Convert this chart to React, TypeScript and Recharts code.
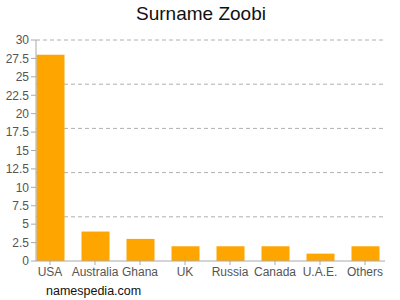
import React from "react";
import { BarChart, Bar, XAxis, YAxis, CartesianGrid } from "recharts";

const countries = ["USA", "Australia", "Ghana", "UK", "Russia", "Canada", "U.A.E.", "Others"];
const counts = [28, 4, 3, 2, 2, 2, 1, 2];
const yTicks = [0, 2.5, 5, 7.5, 10, 12.5, 15, 17.5, 20, 22.5, 25, 27.5, 30];
const gridValues = [6, 12, 18, 24, 30];

const data = countries.map((name, i) => ({ name, value: counts[i] }));

const font = "'Liberation Sans', Arial, Helvetica, sans-serif";

export default function App() {
  return (
    <div style={{ position: "absolute", left: 0, top: 0, width: 400, height: 300, background: "#fff", fontFamily: font }}>
      <div
        style={{
          position: "absolute",
          top: 3,
          left: 0,
          width: 402,
          textAlign: "center",
          fontSize: 19,
          color: "#111",
        }}
      >
        Surname Zoobi
      </div>
      <BarChart
        width={400}
        height={300}
        data={data}
        margin={{ top: 40, right: 15, left: 0, bottom: 9 }}
      >
        <CartesianGrid
          vertical={false}
          stroke="#b0b0b0"
          strokeDasharray="4 3"
          horizontalValues={gridValues}
        />
        <XAxis
          dataKey="name"
          height={30}
          padding={{ left: -8.5, right: -2.5 }}
          tick={{ fill: "#555", fontSize: 12, fontFamily: font }}
          tickLine={{ stroke: "#aaa" }}
          tickSize={4}
          axisLine={{ stroke: "#aaa" }}
          interval={0}
        />
        <YAxis
          width={36}
          domain={[0, 30]}
          ticks={yTicks}
          interval={0}
          tick={{ fill: "#555", fontSize: 12, fontFamily: font }}
          tickLine={{ stroke: "#aaa" }}
          tickSize={5}
          axisLine={{ stroke: "#aaa" }}
        />
        <Bar dataKey="value" fill="#ffa500" barSize={28} isAnimationActive={false} />
      </BarChart>
      <div
        style={{
          position: "absolute",
          top: 284,
          left: 46,
          fontSize: 12.5,
          color: "#111",
        }}
      >
        namespedia.com
      </div>
    </div>
  );
}
